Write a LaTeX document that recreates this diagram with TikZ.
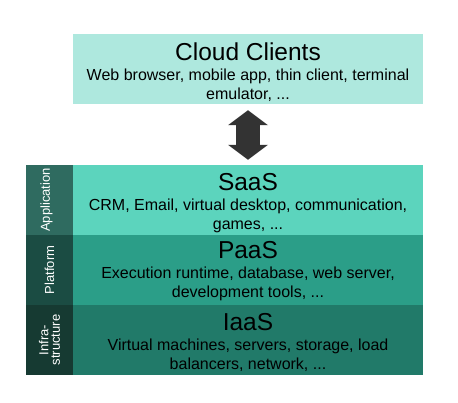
\documentclass[tikz,border=0pt]{standalone}
\usepackage{fontspec}
\setmainfont{Liberation Sans}
\usepackage{xcolor}
\usetikzlibrary{arrows.meta}

\definecolor{clientcol}{HTML}{AEE8DE}
\definecolor{saascol}{HTML}{5CD4BD}
\definecolor{paascol}{HTML}{2B9E88}
\definecolor{iaascol}{HTML}{217A69}
\definecolor{appcol}{HTML}{2F6B60}
\definecolor{platcol}{HTML}{1B4C43}
\definecolor{infracol}{HTML}{163A32}
\definecolor{arrowcol}{HTML}{333333}

\tikzset{
  layer/.style={rectangle, inner sep=0pt, minimum width=350pt, minimum height=70pt},
  sidebox/.style={rectangle, inner sep=0pt, minimum width=47pt, minimum height=70pt},
  ttl/.style={inner sep=0pt, font=\fontsize{24.5}{26}\selectfont},
  desc/.style={inner sep=0pt, align=center, font=\fontsize{16}{19}\selectfont},
  sidetext/.style={inner sep=0pt, align=center, rotate=90, text=white, font=\fontsize{13}{11.5}\selectfont},
}

\begin{document}
\begin{tikzpicture}[x=1pt,y=-1pt]
        \useasboundingbox (0,0) rectangle (458,403);
        \node[layer, fill=clientcol] (clients) at (248,69) {};
        \node[layer, fill=saascol] (saas) at (248,200) {};
        \node[layer, fill=paascol] (paas) at (248,270) {};
        \node[layer, fill=iaascol] (iaas) at (248,340) {};
        \node[sidebox, fill=appcol] (app) at (49.5,200) {};
        \node[sidebox, fill=platcol] (plat) at (49.5,270) {};
        \node[sidebox, fill=infracol] (infra) at (49.5,340) {};
        \node[ttl, anchor=base] (clientst) at ([yshift=-27pt]clients.north) {Cloud Clients};
        \node[desc, anchor=north] (clientsd) at ([yshift=-8.3pt]clientst.base) {Web browser, mobile app, thin client, terminal\\emulator, ...};
        \node[ttl, anchor=base] (saast) at ([yshift=-26pt]saas.north) {SaaS};
        \node[desc, anchor=north] (saasd) at ([yshift=-8.3pt]saast.base) {CRM, Email, virtual desktop, communication,\\games, ...};
        \node[ttl, anchor=base] (paast) at ([yshift=-24pt]paas.north) {PaaS};
        \node[desc, anchor=north] (paasd) at ([yshift=-8.3pt]paast.base) {Execution runtime, database, web server,\\development tools, ...};
        \node[ttl, anchor=base] (iaast) at ([yshift=-26pt]iaas.north) {IaaS};
        \node[desc, anchor=north] (iaasd) at ([yshift=-8.3pt]iaast.base) {Virtual machines, servers, storage, load\\balancers, network, ...};
        \node[sidetext] at ([xshift=-3pt]app.center) {Application};
        \node[sidetext] at (plat.center) {Platform};
        \node[sidetext] at (infra.center) {Infra-\\structure};
        \draw[arrowcol, line width=24pt, {Triangle[width=40pt,length=15pt,line width=0pt]}-{Triangle[width=40pt,length=15pt,line width=0pt]}, shorten <=6pt, shorten >=5pt] (clients) -- (saas);
\end{tikzpicture}
\end{document}
